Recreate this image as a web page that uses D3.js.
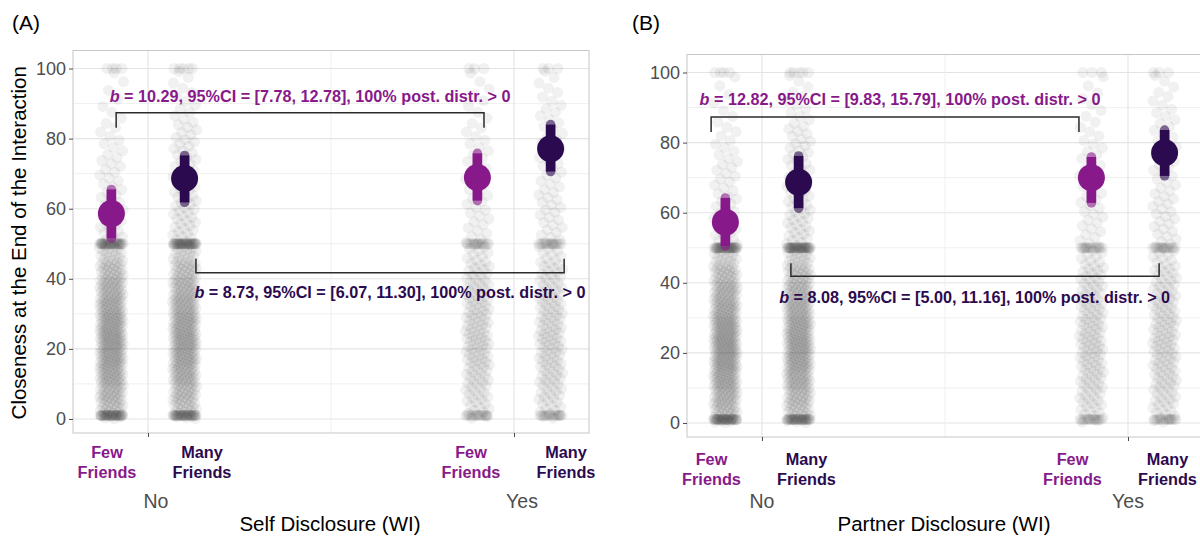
<!DOCTYPE html>
<html><head><meta charset="utf-8">
<script src="https://cdn.jsdelivr.net/npm/d3@7"></script>
<style>body{margin:0;background:#fff} svg{display:block}</style>
</head><body><svg id="chart" width="1200" height="536"></svg>
<script>
// ---------- data ----------
const disclosureLevels = ["No", "Yes"];
const disclosureValues = [0, 1];
const friendGroups = ["Few Friends", "Many Friends"];
const yTicks = [0, 20, 40, 60, 80, 100];
const yMinorTicks = [10, 30, 50, 70, 90];
const panelTags = ["(A)", "(B)"];
const xTitles = ["Self Disclosure (WI)", "Partner Disclosure (WI)"];
const yTitle = "Closeness at the End of the Interaction";

// posterior means and 95% intervals, order: No-Few, No-Many, Yes-Few, Yes-Many
const meanA = [58.6, 68.6, 68.9, 77.1];
const lowA  = [51.5, 61.8, 62.3, 70.6];
const highA = [65.5, 75.2, 75.8, 84.0];
const meanB = [57.3, 68.7, 70.0, 77.1];
const lowB  = [50.5, 61.3, 62.8, 70.5];
const highB = [64.2, 76.2, 75.9, 83.6];

// effect annotations (top: few friends, bottom: many friends)
const effectA = ["10.29, 95%CI = [7.78, 12.78], 100% post. distr. > 0",
                 "8.73, 95%CI = [6.07, 11.30], 100% post. distr. > 0"];
const effectB = ["12.82, 95%CI = [9.83, 15.79], 100% post. distr. > 0",
                 "8.08, 95%CI = [5.00, 11.16], 100% post. distr. > 0"];

// raw responses: counts per 5-point bin (0-5 ... 95-100) plus spikes at 1, 50, 100
const binStarts = [0,5,10,15,20,25,30,35,40,45,50,55,60,65,70,75,80,85,90,95];
const spikeValues = [1, 50, 100];
const rawA_NoFew   = [26,30,36,40,42,40,36,32,26,18,9,8,7,6,6,5,4,3,2,2];
const rawA_NoMany  = [24,28,34,38,40,38,34,30,25,18,11,11,10,9,8,8,7,5,4,3];
const rawA_YesFew  = [11,13,15,17,18,17,16,14,12,9,6,6,6,5,5,5,4,3,3,2];
const rawA_YesMany = [11,13,15,16,17,16,15,13,12,9,7,7,7,6,6,6,5,5,4,3];
const spkA_NoFew   = [29, 30, 4];
const spkA_NoMany  = [29, 34, 5];
const spkA_YesFew  = [14, 14, 3];
const spkA_YesMany = [14, 14, 3];
const rawB_NoFew   = [28,32,38,42,44,42,36,32,26,18,9,8,7,6,6,5,4,3,2,2];
const rawB_NoMany  = [24,28,34,38,40,38,34,30,25,18,11,11,10,9,8,8,7,5,4,3];
const rawB_YesFew  = [11,13,15,16,17,16,15,13,12,9,6,6,6,5,5,5,4,3,3,2];
const rawB_YesMany = [11,13,15,16,17,16,15,13,12,9,7,7,7,6,6,6,5,5,4,3];
const spkB_NoFew   = [31, 32, 4];
const spkB_NoMany  = [29, 34, 5];
const spkB_YesFew  = [14, 14, 3];
const spkB_YesMany = [14, 14, 3];

// ---------- style / layout ----------
const colFew = "#88198b", colMany = "#2c0a4f";
const friendColors = [colFew, colMany];
const FONT = "'Liberation Sans', Arial, Helvetica, sans-serif";

const panels = [
  { tag: panelTags[0], xTitle: xTitles[0], mean: meanA, low: lowA, high: highA,
    raw: [rawA_NoFew, rawA_NoMany, rawA_YesFew, rawA_YesMany],
    spk: [spkA_NoFew, spkA_NoMany, spkA_YesFew, spkA_YesMany],
    effects: effectA,
    brackets: [ {x1:-0.087, x2:0.918, yBar:87.4, yEnd:83.1, tx:0.443, ty:92.0},
                {x1:0.131, x2:1.137, yBar:41.7, yEnd:45.7, tx:0.661, ty:36.3} ],
    left: 73, right: 589, top: 50.5, bottom: 433, labShift: [6.5, 4.5], lvlShift: 8, tagX: 12, yTitle: true },
  { tag: panelTags[1], xTitle: xTitles[1], mean: meanB, low: lowB, high: highB,
    raw: [rawB_NoFew, rawB_NoMany, rawB_YesFew, rawB_YesMany],
    spk: [spkB_NoFew, spkB_NoMany, spkB_YesFew, spkB_YesMany],
    effects: effectB,
    brackets: [ {x1:-0.139, x2:0.866, yBar:87.3, yEnd:83.0, tx:0.377, ty:92.5},
                {x1:0.079, x2:1.085, yBar:41.9, yEnd:45.6, tx:0.581, ty:35.9} ],
    left: 687, right: 1203, top: 54.5, bottom: 437, labShift: [-3, -8], lvlShift: 0, tagX: 632, yTitle: false }
];

const svg = d3.select("#chart");
const dodge = [-0.1, 0.1];
const jitterHalf = 0.033;
const golden = 0.6180339887;

panels.forEach((p, pi) => {
  const x = d3.scaleLinear().domain([-0.2049, 1.2049]).range([p.left, p.right]);
  const y = d3.scaleLinear().domain([-4, 105.14]).range([p.bottom, p.top]);
  const g = svg.append("g");
  const clipId = "clip" + pi;
  svg.append("clipPath").attr("id", clipId).append("rect")
    .attr("x", p.left).attr("y", p.top).attr("width", p.right - p.left).attr("height", p.bottom - p.top);

  // grid
  const grid = g.append("g");
  grid.selectAll("line.hmin").data(yMinorTicks).join("line")
    .attr("x1", p.left).attr("x2", p.right).attr("y1", d => y(d)).attr("y2", d => y(d))
    .attr("stroke", "#ececec").attr("stroke-width", 0.8);
  grid.selectAll("line.hmaj").data(yTicks).join("line")
    .attr("x1", p.left).attr("x2", p.right).attr("y1", d => y(d)).attr("y2", d => y(d))
    .attr("stroke", "#e4e4e4").attr("stroke-width", 1.1);
  grid.append("line").attr("x1", x(0.5)).attr("x2", x(0.5)).attr("y1", p.top).attr("y2", p.bottom)
    .attr("stroke", "#ececec").attr("stroke-width", 0.8);
  grid.selectAll("line.vmaj").data(disclosureValues).join("line")
    .attr("x1", d => x(d)).attr("x2", d => x(d)).attr("y1", p.top).attr("y2", p.bottom)
    .attr("stroke", "#e4e4e4").attr("stroke-width", 1.1);

  // raw points
  const pts = [];
  p.raw.forEach((counts, gi) => {
    const cx = disclosureValues[Math.floor(gi / 2)] + dodge[gi % 2];
    let k = gi * 7 + pi * 3;
    counts.forEach((n, bi) => {
      for (let j = 0; j < n; j++) {
        k++;
        const fx = (k * golden) % 1;
        pts.push({ x: cx + (fx - 0.5) * 2 * jitterHalf, y: binStarts[bi] + 5 * (j + 0.5) / n });
      }
    });
    p.spk[gi].forEach((n, si) => {
      for (let j = 0; j < n; j++) {
        k++;
        const fx = (k * golden) % 1;
        pts.push({ x: cx + (fx - 0.5) * 2 * jitterHalf, y: spikeValues[si] });
      }
    });
  });
  g.append("g").attr("clip-path", `url(#${clipId})`)
    .selectAll("circle").data(pts).join("circle")
    .attr("cx", d => x(d.x)).attr("cy", d => y(d.y)).attr("r", 5.5)
    .attr("fill", "#3a3a3a").attr("fill-opacity", 0.07);

  // point intervals
  const est = p.mean.map((m, i) => ({ m, lo: p.low[i], hi: p.high[i],
      xv: disclosureValues[Math.floor(i / 2)] + dodge[i % 2], col: friendColors[i % 2] }));
  const pi_g = g.append("g");
  pi_g.selectAll("line.cap").data(est).join("line")
    .attr("x1", d => x(d.xv)).attr("x2", d => x(d.xv)).attr("y1", d => y(d.lo)).attr("y2", d => y(d.hi))
    .attr("stroke", d => d.col).attr("stroke-width", 9.5).attr("stroke-linecap", "round").attr("stroke-opacity", 0.6);
  pi_g.selectAll("line.body").data(est).join("line")
    .attr("x1", d => x(d.xv)).attr("x2", d => x(d.xv)).attr("y1", d => y(d.lo)).attr("y2", d => y(d.hi))
    .attr("stroke", d => d.col).attr("stroke-width", 9.5).attr("stroke-linecap", "butt");
  pi_g.selectAll("circle").data(est).join("circle")
    .attr("cx", d => x(d.xv)).attr("cy", d => y(d.m)).attr("r", 13.5).attr("fill", d => d.col);

  // brackets + effect text
  p.brackets.forEach((b, bi) => {
    const path = d3.path();
    path.moveTo(x(b.x1), y(b.yEnd)); path.lineTo(x(b.x1), y(b.yBar));
    path.lineTo(x(b.x2), y(b.yBar)); path.lineTo(x(b.x2), y(b.yEnd));
    g.append("path").attr("d", path.toString()).attr("fill", "none")
      .attr("stroke", "#2b2b2b").attr("stroke-width", 1.5);
    const t = g.append("text").attr("x", x(b.tx)).attr("y", y(b.ty)).attr("dy", "0.36em")
      .attr("text-anchor", "middle").attr("font-family", FONT).attr("font-weight", 700)
      .attr("font-size", 16.2).attr("fill", friendColors[bi]);
    t.append("tspan").attr("font-style", "italic").text("b");
    t.append("tspan").text(" = " + p.effects[bi]);
  });

  // frame
  g.append("rect").attr("x", p.left).attr("y", p.top).attr("width", p.right - p.left)
    .attr("height", p.bottom - p.top).attr("fill", "none").attr("stroke", "#c6c6c6").attr("stroke-width", 1);

  // y axis
  const ya = g.append("g").attr("transform", `translate(${p.left},0)`)
    .call(d3.axisLeft(y).tickValues(yTicks).tickSize(4).tickPadding(3).tickFormat(d3.format("d")));
  ya.select(".domain").remove();
  ya.selectAll(".tick line").attr("stroke", "#4a4a4a").attr("stroke-width", 1);
  ya.selectAll(".tick text").attr("font-family", FONT).attr("font-size", 18).attr("fill", "#4d4d4d");

  // x axis (ticks at disclosure levels)
  const xa = g.append("g").attr("transform", `translate(0,${p.bottom})`)
    .call(d3.axisBottom(x).tickValues(disclosureValues).tickSize(4).tickFormat(""));
  xa.select(".domain").remove();
  xa.selectAll(".tick line").attr("stroke", "#4a4a4a");

  // group labels
  disclosureValues.forEach((v, vi) => {
    const cx = x(v) + p.labShift[vi];
    friendGroups.forEach((fg, fi) => {
      const lx = cx + (fi === 0 ? -47.5 : 47.5);
      const words = fg.split(" ");
      const t = g.append("text").attr("text-anchor", "middle").attr("font-family", FONT)
        .attr("font-weight", 700).attr("font-size", 16.3).attr("fill", friendColors[fi]);
      words.forEach((w, wi) => t.append("tspan").attr("x", lx)
        .attr("y", p.bottom + 18.5 + wi * 20.5 + (pi ? 3 : 0) + 6).text(w));
    });
    g.append("text").attr("x", x(v) + p.lvlShift).attr("y", 501 + 7).attr("text-anchor", "middle")
      .attr("font-family", FONT).attr("font-size", 19.5).attr("fill", "#4d4d4d").text(disclosureLevels[vi]);
  });

  // x title
  g.append("text").attr("x", (p.left + Math.min(p.right, 1203)) / 2 - 1).attr("y", 523 + 7.5)
    .attr("text-anchor", "middle").attr("font-family", FONT).attr("font-size", 20.5).attr("fill", "#000")
    .text(p.xTitle);

  // panel tag
  g.append("text").attr("x", p.tagX).attr("y", 30).attr("font-family", FONT).attr("font-size", 21)
    .attr("fill", "#000").text(p.tag);

  if (p.yTitle) {
    g.append("text").attr("transform", `translate(26,${(p.top + p.bottom) / 2 + 1}) rotate(-90)`)
      .attr("text-anchor", "middle").attr("font-family", FONT).attr("font-size", 20.5).attr("fill", "#000")
      .text(yTitle);
  }
});
</script></body></html>
